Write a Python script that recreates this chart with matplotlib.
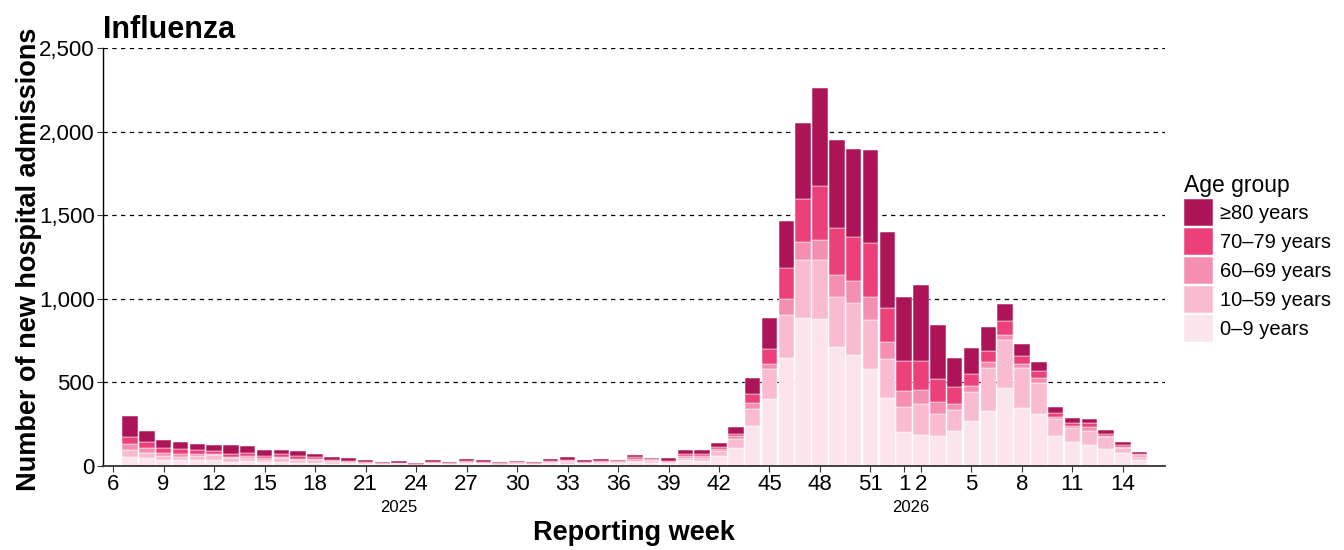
import numpy as np
import matplotlib
matplotlib.use('Agg')
import matplotlib.pyplot as plt
from matplotlib.ticker import FuncFormatter

plt.rcParams['font.family'] = ['Liberation Sans', 'DejaVu Sans']

# reporting weeks: 2025 week 6 .. 52, then 2026 week 1 .. 15
weeks_2025 = list(range(6, 53))
weeks_2026 = list(range(1, 16))

age_groups = ['0–9 years', '10–59 years', '60–69 years', '70–79 years', '≥80 years']
colors = ['#FCE4EC', '#F8BBD0', '#F48FB1', '#EC407A', '#AD1457']

# admissions per age group (2025 w6..w52, then 2026 w1..w15)
age_0_9 = [0, 56, 46, 36, 34, 36, 36, 22, 30, 22, 26, 20, 20, 14, 12, 10, 6, 8, 4, 10,
           6, 14, 12, 6, 10, 6, 12, 14, 10, 12, 12, 22, 18, 10, 36, 32, 58, 110, 241, 400,
           647, 886, 878, 711, 663, 580, 406,
           201, 187, 181, 211, 269, 327, 464, 347, 311, 179, 143, 125, 102, 76, 36]
age_10_59 = [0, 40, 32, 24, 22, 26, 28, 24, 20, 16, 20, 14, 14, 8, 6, 4, 4, 4, 2, 6,
             4, 6, 4, 2, 4, 4, 6, 8, 6, 8, 6, 10, 10, 6, 14, 18, 32, 49, 100, 180,
             259, 345, 353, 297, 309, 291, 233,
             152, 182, 130, 122, 173, 257, 287, 237, 185, 100, 82, 86, 69, 32, 20]
age_60_69 = [0, 34, 28, 16, 14, 12, 10, 10, 10, 8, 10, 8, 6, 6, 4, 4, 4, 4, 2, 4,
             4, 4, 4, 4, 4, 4, 4, 6, 4, 4, 4, 8, 6, 6, 10, 10, 10, 20, 37, 28,
             90, 108, 120, 133, 132, 139, 104,
             93, 85, 71, 40, 38, 36, 30, 24, 32, 16, 14, 20, 8, 8, 8]
age_70_79 = [0, 43, 38, 34, 30, 22, 18, 16, 20, 14, 14, 18, 12, 8, 6, 4, 4, 4, 2, 6,
             6, 8, 6, 4, 4, 4, 8, 10, 6, 8, 6, 12, 6, 6, 12, 10, 14, 12, 52, 91,
             187, 257, 322, 283, 263, 323, 201,
             181, 175, 136, 99, 72, 67, 84, 49, 40, 24, 16, 24, 12, 11, 8]
age_80 = [0, 126, 65, 48, 42, 34, 32, 54, 40, 34, 26, 30, 22, 18, 18, 14, 4, 10, 8, 8,
          4, 10, 8, 8, 8, 6, 10, 16, 10, 8, 8, 12, 10, 20, 24, 24, 25, 44, 98, 187,
          281, 458, 588, 524, 531, 559, 456,
          383, 451, 325, 175, 155, 146, 105, 70, 54, 32, 30, 28, 26, 16, 10]

series = [age_0_9, age_10_59, age_60_69, age_70_79, age_80]
week_labels = weeks_2025 + weeks_2026
x = np.arange(len(week_labels))

fig = plt.figure(figsize=(13.44, 5.5), dpi=100)
ax = fig.add_axes([103 / 1344, 84 / 550, 1062 / 1344, 418 / 550])

bottom = np.zeros(len(x))
handles = []
for vals, col, lab in zip(series, colors, age_groups):
    vals = np.array(vals, dtype=float)
    b = ax.bar(x, vals, bottom=bottom, width=0.92, color=col, edgecolor='white',
               linewidth=0.35, label=lab, zorder=2)
    handles.append(b)
    bottom += vals

# grid
for yv in [500, 1000, 1500, 2000, 2500]:
    ax.axhline(yv, color='black', linestyle=(0, (3.5, 3.5)), linewidth=0.9, zorder=1)

ax.set_ylim(0, 2500)
ax.set_xlim(-0.6, 62.5)
ax.set_yticks([0, 500, 1000, 1500, 2000, 2500])
ax.yaxis.set_major_formatter(FuncFormatter(lambda v, p: f'{int(v):,}'))

tick_pos = [i for i in x if i % 3 == 0 or (i >= len(weeks_2025) and week_labels[i] == 1)]
ax.set_xticks(tick_pos)
ax.set_xticklabels([str(week_labels[i]) for i in tick_pos])
ax.tick_params(axis='both', labelsize=16, length=4, width=0.8, color='#333333', pad=2)

for s in ['top', 'right']:
    ax.spines[s].set_visible(False)
ax.spines['left'].set_linewidth(1.0)
ax.spines['bottom'].set_linewidth(1.3)
ax.spines['bottom'].set_color('#333333')

# year labels under the week ticks
year_pos = [(2025, weeks_2025.index(23)), (2026, len(weeks_2025) + weeks_2026.index(2) - 0.6)]
for yr, pos in year_pos:
    ax.text(pos, -0.10, str(yr), transform=ax.get_xaxis_transform(),
            ha='center', va='center', fontsize=12)

ax.set_xlabel('Reporting week', fontsize=19.5, fontweight='bold')
ax.xaxis.set_label_coords(0.5, -0.13)
ax.set_ylabel('Number of new hospital admissions', fontsize=19.5, fontweight='bold')
ax.yaxis.set_label_coords(-0.057, 0.495)
ax.set_title('Influenza', loc='left', fontsize=22, fontweight='bold', pad=7)

leg = fig.legend(handles[::-1], age_groups[::-1], title='Age group',
                 loc='upper left', bbox_to_anchor=(1174 / 1344, 1 - 164 / 550),
                 frameon=False, fontsize=14.5, title_fontsize=16.5,
                 handlelength=1.45, handleheight=1.72, labelspacing=0.08,
                 handletextpad=0.32, borderpad=0, alignment='left')

fig.savefig('out.png', dpi=100)
